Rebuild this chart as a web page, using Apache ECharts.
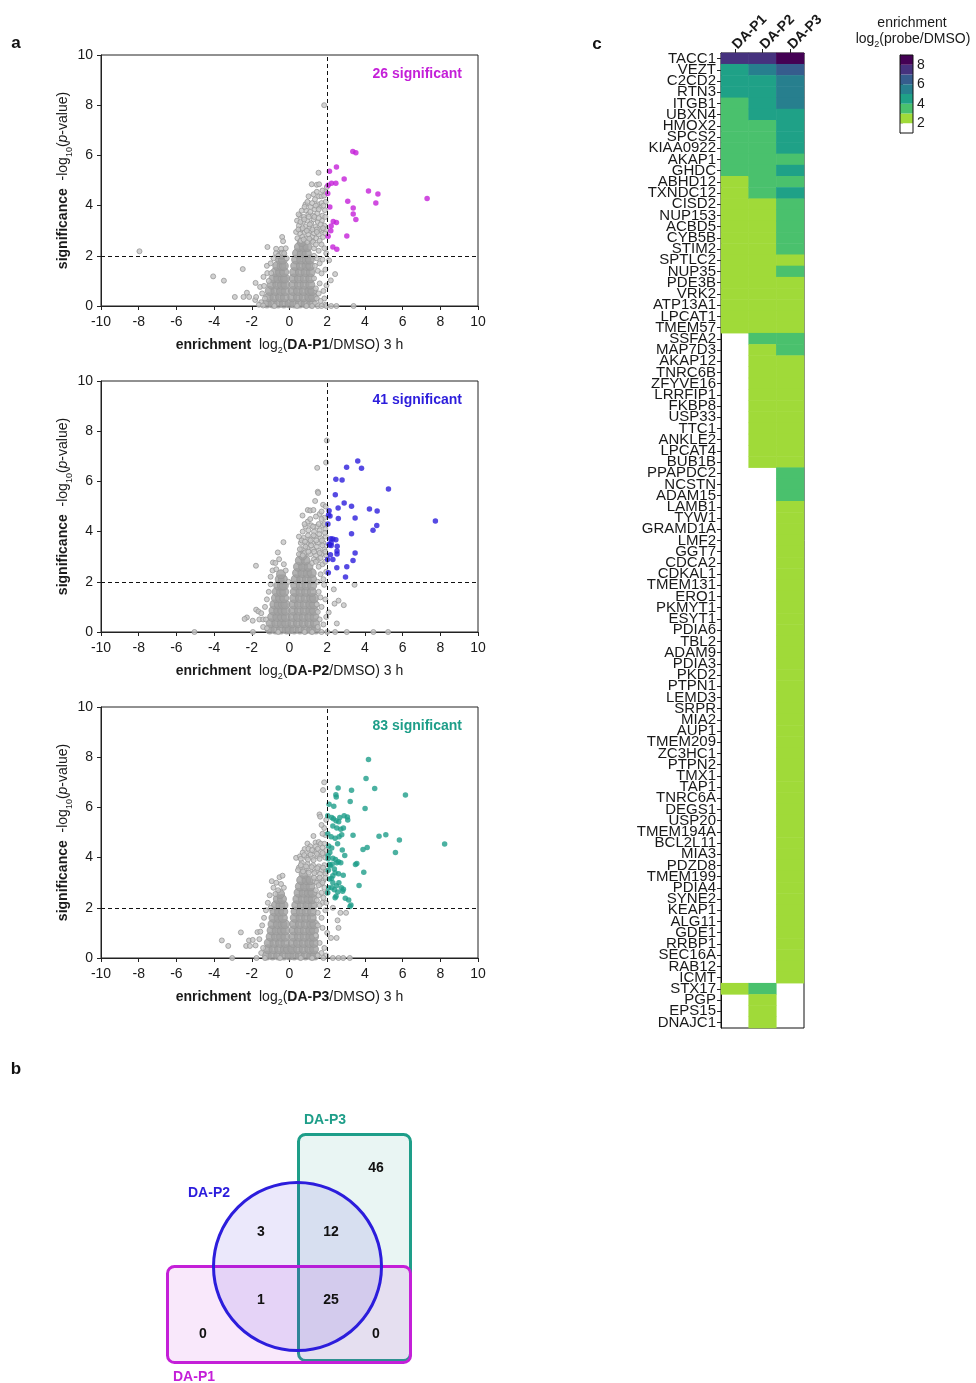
<!DOCTYPE html>
<html>
<head>
<meta charset="utf-8">
<script src="https://cdn.jsdelivr.net/npm/echarts@6/dist/echarts.min.js"></script>
<style>
  html, body { margin: 0; padding: 0; background: #fff; }
  #chart { width: 976px; height: 1383px; }
</style>
</head>
<body>
<div id="chart"></div>
<script>
// ---------- volcano plots: [log2 enrichment, -log10 p] ----------
const foldCut = 2;
const pCut = 2;

// significant hits per probe
const p1Sig = [[2.12,5.37],[2.49,5.54],[2.23,4.89],[2.46,4.89],[2.90,5.06],[2.03,4.48],[3.36,6.16],[3.52,6.11],[4.19,4.58],[4.69,4.46],[4.58,4.10],[7.30,4.28],[3.09,4.17],[3.38,3.90],[3.38,3.67],[3.52,3.45],[2.32,3.37],[2.49,3.33],[2.14,3.94],[2.21,3.19],[2.19,3.00],[2.05,2.78],[3.04,2.79],[2.30,2.35],[2.51,2.26],[2.05,4.81]];
const p2Sig = [[7.74,4.42],[5.25,5.70],[3.62,6.81],[3.82,6.52],[3.03,6.56],[2.46,6.09],[2.79,6.06],[2.43,5.47],[2.90,5.14],[3.29,5.01],[2.58,4.94],[4.24,4.90],[4.65,4.82],[3.48,4.54],[2.59,4.52],[2.10,4.83],[2.07,4.66],[2.15,4.62],[4.63,4.24],[4.43,4.05],[3.29,3.91],[2.19,3.72],[2.30,3.71],[2.46,3.68],[2.10,3.50],[2.21,3.45],[2.53,3.42],[2.52,3.23],[2.52,3.11],[3.48,3.15],[2.17,3.08],[2.02,2.89],[2.30,2.89],[3.37,2.85],[2.51,2.56],[3.04,2.60],[2.06,2.36],[2.97,2.19],[2.12,3.47],[2.04,4.30],[2.21,3.55]];
const p3Sig = [[8.23,4.54],[4.19,7.91],[4.06,7.15],[4.52,6.75],[6.15,6.49],[4.01,5.96],[5.83,4.70],[5.11,4.91],[4.75,4.85],[5.62,4.20],[4.12,4.40],[3.90,4.32],[3.37,4.89],[3.57,3.76],[3.50,3.73],[3.94,3.42],[3.69,2.89],[3.29,6.68],[3.22,6.24],[2.58,6.77],[2.46,6.50],[2.48,6.41],[2.10,6.13],[2.90,5.67],[3.07,5.62],[3.09,5.50],[2.03,5.67],[2.24,5.60],[2.33,5.55],[2.47,5.47],[2.61,5.43],[2.30,5.26],[2.51,5.18],[2.72,5.13],[2.86,5.18],[2.77,4.91],[2.63,4.83],[2.21,4.83],[2.42,4.77],[2.08,4.46],[2.24,4.38],[2.93,4.08],[2.30,3.97],[2.44,3.92],[2.60,3.83],[2.72,3.79],[2.51,3.79],[2.12,3.73],[2.26,3.74],[2.16,3.68],[2.42,3.40],[2.60,3.36],[2.30,3.28],[2.23,3.17],[2.12,3.15],[2.62,3.00],[2.30,3.00],[2.49,2.88],[2.08,2.80],[2.24,2.80],[2.75,2.80],[2.86,2.74],[2.82,2.66],[2.56,2.63],[2.38,2.72],[2.42,2.40],[2.47,2.46],[2.96,2.38],[3.14,2.31],[3.26,2.11],[3.21,2.05],[2.03,2.60],[2.06,3.50],[2.05,4.08],[2.03,4.95],[2.14,4.20],[2.55,4.55],[2.67,5.60],[2.35,6.05],[2.80,4.30],[2.38,3.55],[2.05,3.95],[2.85,3.30]];

// crowded centre of the non-significant proteins
const p1Core = [[-1.2,0.1],[-0.9,0.1],[-0.6,0.1],[-0.3,0.1],[0.0,0.1],[-1.1,0.35],[-0.8,0.35],[-0.5,0.35],[-0.25,0.35],[-1.05,0.6],[-0.75,0.6],[-0.45,0.6],[-0.22,0.6],[-0.95,0.85],[-0.65,0.85],[-0.4,0.85],[-0.22,0.85],[-0.85,1.1],[-0.6,1.1],[-0.35,1.1],[-0.24,1.1],[-0.75,1.35],[-0.5,1.35],[-0.28,1.35],[-0.65,1.6],[-0.42,1.6],[-0.3,1.6],[-0.5,1.85],[-0.35,1.85],[-0.42,2.05],
  [0.25,0.1],[0.55,0.1],[0.85,0.1],[1.15,0.1],[0.15,0.35],[0.45,0.35],[0.75,0.35],[1.05,0.35],[1.25,0.35],[0.18,0.6],[0.45,0.6],[0.75,0.6],[1.05,0.6],[1.22,0.6],[0.2,0.85],[0.5,0.85],[0.8,0.85],[1.1,0.85],[0.22,1.1],[0.5,1.1],[0.8,1.1],[1.1,1.1],[0.25,1.35],[0.55,1.35],[0.85,1.35],[1.12,1.35],[0.3,1.6],[0.6,1.6],[0.9,1.6],[1.1,1.6],[0.35,1.85],[0.62,1.85],[0.9,1.85],[1.08,1.85],[0.4,2.1],[0.65,2.1],[0.92,2.1],[0.5,2.35],[0.75,2.35],[0.95,2.35],[0.65,2.55]];
const p2Core = [[-1.05,0.1],[-0.75,0.1],[-0.45,0.1],[-0.15,0.1],[0.0,0.1],[-1.0,0.35],[-0.7,0.35],[-0.42,0.35],[-0.18,0.35],[-0.92,0.6],[-0.65,0.6],[-0.4,0.6],[-0.2,0.6],[-0.85,0.85],[-0.6,0.85],[-0.38,0.85],[-0.2,0.85],[-0.8,1.1],[-0.57,1.1],[-0.35,1.1],[-0.22,1.1],[-0.72,1.35],[-0.5,1.35],[-0.28,1.35],[-0.68,1.6],[-0.45,1.6],[-0.28,1.6],[-0.6,1.85],[-0.4,1.85],[-0.3,1.85],[-0.52,2.1],[-0.35,2.1],[-0.45,2.3],
  [0.25,0.1],[0.55,0.1],[0.85,0.1],[1.15,0.1],[1.4,0.1],[0.15,0.35],[0.45,0.35],[0.75,0.35],[1.05,0.35],[1.35,0.35],[0.18,0.6],[0.45,0.6],[0.75,0.6],[1.05,0.6],[1.32,0.6],[0.2,0.85],[0.5,0.85],[0.8,0.85],[1.1,0.85],[1.3,0.85],[0.22,1.1],[0.5,1.1],[0.8,1.1],[1.1,1.1],[1.3,1.1],[0.25,1.35],[0.55,1.35],[0.85,1.35],[1.15,1.35],[1.3,1.35],[0.28,1.6],[0.58,1.6],[0.88,1.6],[1.18,1.6],[0.3,1.85],[0.6,1.85],[0.9,1.85],[1.2,1.85],[0.33,2.1],[0.62,2.1],[0.92,2.1],[1.2,2.1],[0.4,2.35],[0.68,2.35],[0.95,2.35],[1.18,2.35],[0.45,2.6],[0.72,2.6],[1.0,2.6],[0.55,2.85],[0.85,2.85],[0.7,3.05]];
const p3Core = [[-1.2,0.1],[-0.9,0.1],[-0.6,0.1],[-0.3,0.1],[0.0,0.1],[-1.15,0.35],[-0.85,0.35],[-0.55,0.35],[-0.25,0.35],[-0.08,0.35],[-1.1,0.6],[-0.8,0.6],[-0.5,0.6],[-0.22,0.6],[-1.0,0.85],[-0.72,0.85],[-0.45,0.85],[-0.22,0.85],[-0.95,1.1],[-0.68,1.1],[-0.42,1.1],[-0.22,1.1],[-0.9,1.35],[-0.62,1.35],[-0.38,1.35],[-0.23,1.35],[-0.85,1.6],[-0.58,1.6],[-0.35,1.6],[-0.8,1.85],[-0.55,1.85],[-0.33,1.85],[-0.72,2.1],[-0.48,2.1],[-0.32,2.1],[-0.62,2.35],[-0.4,2.35],[-0.5,2.55],
  [0.25,0.1],[0.55,0.1],[0.85,0.1],[1.15,0.1],[1.35,0.1],[0.15,0.35],[0.45,0.35],[0.75,0.35],[1.05,0.35],[1.3,0.35],[0.18,0.6],[0.45,0.6],[0.75,0.6],[1.05,0.6],[1.3,0.6],[0.2,0.85],[0.5,0.85],[0.8,0.85],[1.1,0.85],[1.3,0.85],[0.22,1.1],[0.5,1.1],[0.8,1.1],[1.1,1.1],[1.3,1.1],[0.25,1.35],[0.55,1.35],[0.85,1.35],[1.15,1.35],[1.32,1.35],[0.28,1.6],[0.58,1.6],[0.88,1.6],[1.18,1.6],[0.32,1.85],[0.6,1.85],[0.9,1.85],[1.2,1.85],[0.36,2.1],[0.65,2.1],[0.95,2.1],[1.22,2.1],[0.42,2.35],[0.7,2.35],[1.0,2.35],[1.22,2.35],[0.48,2.6],[0.75,2.6],[1.02,2.6],[1.22,2.6],[0.55,2.85],[0.82,2.85],[1.1,2.85],[0.62,3.1],[0.9,3.1],[1.12,3.1],[0.75,3.35]];

// the sparser non-significant proteins around the centre
const p1Gray = [[-7.96,2.18],[-4.05,1.18],[-3.48,1.01],[-2.48,1.47],[-2.9,0.36],[-2.44,0.36],[-2.26,0.53],[-2.14,0.36],[-1.82,0.24],[-1.8,0.92],[-1.56,0.76],[-1.77,0.36],[-1.17,2.35],[-0.71,2.28],[-0.39,2.75],[-0.34,2.58],[-0.44,2.28],[-0.72,2.1],[-0.41,2.1],[-0.28,2.1],[-1.18,1.31],[-0.97,1.31],[-1.38,1.16],[-1.45,0.5],[-1.5,0.15],[-1.35,0.8],[-1.2,1.6],[-1.0,1.7],[-0.85,1.9],[-1.1,1.0],[-1.3,0.3],[-0.6,2.0],[-0.15,1.9],[-0.2,2.3],[-1.62,0.05],[-1.4,0.02],
  [0.42,2.7],[0.55,2.9],[0.68,2.75],[0.8,2.95],[0.9,2.7],[1.0,2.85],[1.1,3.0],[1.2,2.75],[1.3,2.9],[1.42,2.7],[1.55,2.85],[1.68,3.0],[1.78,2.75],[1.9,2.9],[0.6,2.6],[1.15,2.6],
  [0.5,3.2],[0.62,3.05],[0.72,3.35],[0.85,3.15],[0.95,3.4],[1.05,3.1],[1.15,3.3],[1.28,3.45],[1.38,3.15],[1.5,3.35],[1.6,3.05],[1.72,3.4],[1.85,3.2],[1.95,3.05],[0.4,3.4],
  [0.55,3.6],[0.75,3.55],[0.88,3.8],[1.0,3.65],[1.12,3.95],[1.25,3.6],[1.35,3.85],[1.48,3.7],[1.62,3.95],[1.75,3.6],[1.88,3.82],[0.48,3.65],
  [0.85,4.05],[1.01,4.37],[1.2,4.1],[1.35,4.25],[1.5,4.05],[1.57,4.37],[1.7,4.37],[1.84,4.4],[1.92,4.15],[1.7,4.1],
  [1.18,4.85],[1.45,4.83],[1.57,4.85],[1.98,4.74],[1.54,5.31],[1.9,4.55],[1.75,4.6],[1.84,8.0],
  [0.35,2.95],[0.47,3.05],[0.58,3.35],[0.7,3.1],[0.78,3.45],[0.92,3.0],[1.02,3.55],[1.08,3.25],[1.22,3.05],[1.32,3.55],[1.45,3.05],[1.55,3.5],[1.65,3.25],[1.78,3.1],[1.9,3.55],[0.65,3.8],[0.8,3.95],[0.95,4.15],[1.1,3.75],[1.4,4.0],[1.55,3.85],[1.8,4.0],[1.28,4.45],[1.45,4.55],[0.95,2.55],[1.25,2.55],[1.6,2.6],[1.45,2.95],[0.75,2.65],[1.05,2.68],
  [1.3,2.3],[1.4,2.45],[1.55,2.2],[1.7,2.45],[1.85,2.3],[1.95,2.1],[1.45,1.9],[1.6,1.7],[1.75,1.85],[2.1,1.82],[1.5,1.4],[1.7,1.3],[1.35,1.6],[1.9,1.45],[2.42,1.27],[2.19,1.02],[1.96,0.82],[1.6,0.9],[1.4,0.7],[1.8,0.6],[1.55,0.5],[1.45,0.3],[1.85,0.3],[1.65,0.2],[1.9,0.05],[1.95,0],[2.21,0],[2.49,0],[3.4,0],[1.3,1.1],[1.35,0.1],[1.3,2.0],
  [-0.8,0],[0.4,0],[0.9,0],[1.2,0],[1.5,0],[1.7,0]];
const p2Gray = [[-5.04,0],[-1.94,0],[-1.78,2.64],[-0.88,2.77],[-0.75,2.75],[-0.62,3.17],[-0.32,3.58],[-0.55,2.9],[-0.9,2.45],[-1.0,2.2],[-0.7,2.5],[-2.26,0.58],[-2.38,0.52],[-1.77,0.89],[-1.65,0.82],[-1.5,0.75],[-1.6,0.5],[-1.4,0.5],[-1.25,0.5],[-1.95,0.45],[-1.3,1.0],[-1.2,1.3],[-1.1,1.6],[-1.0,1.9],[-1.4,0.2],[-1.2,0.15],[-0.05,2.0],[-0.2,2.45],[-0.3,2.7],
  [0.5,3.1],[0.65,3.3],[0.8,3.15],[0.95,3.35],[1.1,3.1],[1.25,3.3],[1.4,3.05],[1.55,3.25],[1.7,3.1],[1.85,3.3],[1.95,3.05],
  [0.6,3.55],[0.75,3.75],[0.9,3.5],[1.05,3.7],[1.2,3.55],[1.35,3.8],[1.5,3.55],[1.65,3.75],[1.8,3.55],[1.92,3.8],[0.5,3.8],
  [0.7,4.0],[0.85,4.2],[1.0,4.05],[1.15,4.25],[1.3,4.0],[1.45,4.2],[1.6,4.05],[1.75,4.25],[1.9,4.1],[0.69,4.64],[0.97,4.4],
  [0.97,4.86],[1.1,4.84],[1.27,4.86],[1.36,5.22],[1.78,5.07],[1.6,4.7],[1.85,4.55],[1.5,5.59],[1.52,5.54],[1.47,6.54],[1.94,6.75],[1.98,7.63],[1.7,4.8],[1.92,5.0],
  [0.55,3.3],[0.7,3.05],[0.85,3.4],[1.0,3.2],[1.15,3.45],[1.3,3.2],[1.45,3.4],[1.6,3.15],[1.75,3.45],[1.9,3.2],[0.65,3.65],[0.82,3.6],[0.98,3.85],[1.12,3.65],[1.28,3.85],[1.42,3.65],[1.58,3.9],[1.72,3.65],[1.88,3.95],[0.8,4.3],[1.1,4.5],[1.25,4.2],[1.4,4.6],[1.55,4.3],[1.7,4.5],[1.85,4.3],[1.3,2.9],[1.5,2.85],[1.65,2.95],[1.2,2.75],
  [1.5,2.0],[1.65,2.3],[1.8,2.1],[1.95,2.4],[1.55,2.6],[1.75,2.7],[1.9,2.8],[1.4,2.8],[1.84,1.88],[2.35,1.7],[1.64,1.38],[2.39,1.13],[2.6,1.25],[2.88,1.07],[2.08,0.78],[2.51,0.34],[3.45,1.88],[2.42,0],[3.04,0],[4.45,0],[5.23,0],[1.55,1.6],[1.7,1.0],[1.9,1.3],[1.6,0.5],[1.8,0.3],[1.95,0.6],[1.5,0.2],[2.0,0],[1.7,0],[1.2,0],[0.8,0],[-0.6,0],[1.45,1.1],[1.5,0.8]];
const p3Gray = [[-3.59,0.7],[-3.25,0.48],[-3.04,0],[-2.58,1.02],[-2.3,0.48],[-2.1,0.48],[-2.15,0.7],[-1.95,0.72],[-1.7,1.03],[-1.55,1.05],[-1.8,0.5],[-1.6,0.75],[-1.45,1.3],[-1.35,1.6],[-1.25,1.9],[-1.4,0.4],[-1.5,0.2],[-1.75,0],[-1.3,0],[-1.15,2.2],[-1.05,2.5],[-0.94,3.06],[-0.53,3.22],[-0.37,3.28],[-0.7,3.0],[-0.85,2.8],[-0.6,2.7],[-0.75,2.55],[-0.3,2.8],[-0.45,2.95],[-1.0,2.0],
  [1.84,7.0],[1.78,6.69],[1.59,5.72],[1.63,5.63],[1.84,5.18],[1.27,4.86],[1.38,4.6],[1.55,4.62],[1.66,4.55],[0.95,4.56],[0.8,4.34],[0.35,3.99],[1.9,4.9],[1.75,4.95],[1.95,5.5],[1.7,5.3],
  [0.5,3.6],[0.65,3.8],[0.8,3.55],[0.95,3.75],[1.1,3.5],[1.25,3.7],[1.4,3.45],[1.55,3.65],[1.7,3.5],[1.85,3.7],[1.95,3.45],
  [0.55,4.05],[0.7,4.2],[0.9,4.0],[1.05,4.2],[1.2,4.0],[1.35,4.25],[1.5,4.05],[1.65,4.25],[1.8,4.1],[1.95,4.3],[1.1,4.45],[1.4,4.45],[1.85,4.55],
  [0.45,3.5],[0.6,3.7],[0.72,3.45],[0.88,3.65],[1.02,3.4],[1.18,3.62],[1.32,3.38],[1.48,3.58],[1.62,3.35],[1.78,3.6],[1.92,3.35],[0.6,3.95],[0.78,4.1],[0.98,3.92],[1.12,4.12],[1.28,3.9],[1.45,4.15],[1.6,3.95],[1.75,4.18],[1.9,4.0],[1.0,4.35],[1.2,4.3],[1.5,4.35],[1.75,4.4],[1.35,3.05],[1.5,3.15],[1.65,2.95],[1.8,3.1],[1.55,2.5],[1.75,2.2],
  [1.3,3.2],[1.45,3.0],[1.6,3.2],[1.75,3.0],[1.9,3.2],[1.4,2.7],[1.55,2.9],[1.7,2.6],[1.85,2.8],[1.98,2.6],
  [1.45,2.3],[1.6,2.1],[1.8,2.4],[1.95,2.2],[1.5,1.8],[1.7,1.6],[1.9,1.9],[2.3,2.0],[2.7,1.8],[2.55,1.5],[3.0,1.8],[1.5,1.3],[1.75,1.2],[2.0,1.0],[2.2,0.8],[2.6,1.2],[2.5,0.8],[1.4,0.9],[1.6,0.6],[1.85,0.4],[1.7,0.2],[1.95,0.1],[1.5,0.1],[2.3,0],[2.6,0],[2.85,0],[3.2,0],[1.8,0],[1.2,0],[0.6,0],[-0.5,0]];

const xTickRange = [-10, 10, 2];
const yTickRange = [0, 10, 2];

// ---------- heatmap: log2(probe/DMSO) of significant proteins ----------
const probes = ['DA-P1', 'DA-P2', 'DA-P3'];
const genes = ['TACC1','VEZT','C2CD2','RTN3','ITGB1','UBXN4','HMOX2','SPCS2','KIAA0922','AKAP1','GHDC','ABHD12','TXNDC12','CISD2','NUP153','ACBD5','CYB5B','STIM2','SPTLC2','NUP35','PDE3B','VRK2','ATP13A1','LPCAT1','TMEM57','SSFA2','MAP7D3','AKAP12','TNRC6B','ZFYVE16','LRRFIP1','FKBP8','USP33','TTC1','ANKLE2','LPCAT4','BUB1B','PPAPDC2','NCSTN','ADAM15','LAMB1','TYW1','GRAMD1A','LMF2','GGT7','CDCA2','CDKAL1','TMEM131','ERO1','PKMYT1','ESYT1','PDIA6','TBL2','ADAM9','PDIA3','PKD2','PTPN1','LEMD3','SRPR','MIA2','AUP1','TMEM209','ZC3HC1','PTPN2','TMX1','TAP1','TNRC6A','DEGS1','USP20','TMEM194A','BCL2L11','MIA3','PDZD8','TMEM199','PDIA4','SYNE2','KEAP1','ALG11','GDE1','RRBP1','SEC16A','RAB12','ICMT','STX17','PGP','EPS15','DNAJC1'];

const p1Enrich = {TACC1:7.30, VEZT:4.69, C2CD2:4.58, RTN3:4.19, ITGB1:3.52, UBXN4:3.52, HMOX2:3.38, SPCS2:3.38, KIAA0922:3.36, AKAP1:3.09, GHDC:3.04, ABHD12:2.90, TXNDC12:2.51, CISD2:2.49, NUP153:2.49, ACBD5:2.46, CYB5B:2.32, STIM2:2.30, SPTLC2:2.23, NUP35:2.21, PDE3B:2.19, VRK2:2.14, ATP13A1:2.12, LPCAT1:2.05, TMEM57:2.03, STX17:2.05};
const p2Enrich = {TACC1:7.74, VEZT:5.25, C2CD2:4.65, RTN3:4.63, ITGB1:4.43, UBXN4:4.24, HMOX2:3.82, SPCS2:3.62, KIAA0922:3.48, AKAP1:3.48, GHDC:3.37, ABHD12:3.29, TXNDC12:3.29, CISD2:2.97, NUP153:2.90, ACBD5:2.79, CYB5B:2.59, STIM2:2.58, SPTLC2:2.53, NUP35:2.52, PDE3B:2.52, VRK2:2.51, ATP13A1:2.46, LPCAT1:2.43, TMEM57:2.30, SSFA2:3.04, MAP7D3:2.30, AKAP12:2.21, TNRC6B:2.21, ZFYVE16:2.19, LRRFIP1:2.17, FKBP8:2.15, USP33:2.12, TTC1:2.10, ANKLE2:2.10, LPCAT4:2.07, BUB1B:2.06, STX17:3.03, PGP:2.04, EPS15:2.02, DNAJC1:2.46};
const p3Enrich = {TACC1:8.23, VEZT:6.15, C2CD2:5.83, RTN3:5.62, ITGB1:5.11, UBXN4:4.75, HMOX2:4.52, SPCS2:4.19, KIAA0922:4.12, AKAP1:3.94, GHDC:4.06, ABHD12:3.90, TXNDC12:4.01, CISD2:3.69, NUP153:3.57, ACBD5:3.50, CYB5B:3.37, STIM2:3.29, SPTLC2:2.96, NUP35:3.26, PDE3B:2.93, VRK2:2.90, ATP13A1:2.86, LPCAT1:2.86, TMEM57:2.85, SSFA2:3.22, MAP7D3:3.21, AKAP12:2.82, TNRC6B:2.80, ZFYVE16:2.77, LRRFIP1:2.75, FKBP8:2.72, USP33:2.72, TTC1:2.67, ANKLE2:2.63, LPCAT4:2.62, BUB1B:2.61, PPAPDC2:3.14, NCSTN:3.09, ADAM15:3.07,
  LAMB1:2.60, TYW1:2.60, GRAMD1A:2.58, LMF2:2.56, GGT7:2.55, CDCA2:2.51, CDKAL1:2.51, TMEM131:2.49, ERO1:2.48, PKMYT1:2.47, ESYT1:2.47, PDIA6:2.46, TBL2:2.44, ADAM9:2.42, PDIA3:2.42, PKD2:2.42, PTPN1:2.38, LEMD3:2.38, SRPR:2.35, MIA2:2.33, AUP1:2.30, TMEM209:2.30, ZC3HC1:2.30, PTPN2:2.30, TMX1:2.26, TAP1:2.24, TNRC6A:2.24, DEGS1:2.23, USP20:2.21, TMEM194A:2.16, BCL2L11:2.14, MIA3:2.12, PDZD8:2.12, TMEM199:2.10, PDIA4:2.08, SYNE2:2.08, KEAP1:2.06, ALG11:2.05, GDE1:2.05, RRBP1:2.03, SEC16A:2.03, RAB12:2.03, ICMT:2.02};

// colour scale (one step per log2 unit)
const scaleEdges = [1, 2, 3, 4, 5, 6, 7, 8, 9];
const scaleTicks = [2, 4, 6, 8];
const viridisSteps = ['#ffffff', '#a0da39', '#4ac16d', '#1fa187', '#277f8e', '#365c8d', '#46327e', '#440154'];

// ---------- styling ----------
const FONT = '"Liberation Sans", Arial, Helvetica, sans-serif';
const INK = '#1a1a1a';
const probeColors = ['#c41fd8', '#2c1ddc', '#1e9e89'];
const grayFill = '#c6c6c6', grayEdge = '#979797', coreFill = '#a0a0a0';

const volcanoData = [
  { sig: p1Sig, core: p1Core, rest: p1Gray },
  { sig: p2Sig, core: p2Core, rest: p2Gray },
  { sig: p3Sig, core: p3Core, rest: p3Gray }
];
const volcanoTops = [55, 381, 707];
const plotLeft = 101, plotW = 377, plotH = 251;

const richName = {
  b: { fontWeight: 'bold', fontSize: 14, fontFamily: FONT, color: INK },
  s: { fontSize: 9, lineHeight: 20, verticalAlign: 'bottom', fontFamily: FONT, color: INK },
  i: { fontStyle: 'italic', fontSize: 14, fontFamily: FONT, color: INK }
};

const grids = [], xAxes = [], yAxes = [], series = [], graphics = [];

volcanoData.forEach((v, i) => {
  grids.push({ left: plotLeft, top: volcanoTops[i], width: plotW, height: plotH,
    show: true, borderColor: '#222', borderWidth: 1, backgroundColor: 'transparent' });
  const tickStyle = { show: true, length: 4, lineStyle: { color: '#222', width: 1 } };
  xAxes.push({
    gridIndex: i, type: 'value', min: xTickRange[0], max: xTickRange[1], interval: xTickRange[2],
    axisLine: { show: true, onZero: false, lineStyle: { color: '#222' } },
    axisTick: tickStyle, splitLine: { show: false },
    axisLabel: { fontSize: 14, color: INK, fontFamily: FONT, margin: 9 },
    name: '{b|enrichment}  log{s|2}({b|' + probes[i] + '}/DMSO) 3 h',
    nameLocation: 'middle', nameGap: 29,
    nameTextStyle: { fontSize: 14, color: INK, fontFamily: FONT, rich: richName }
  });
  yAxes.push({
    gridIndex: i, type: 'value', min: yTickRange[0], max: yTickRange[1], interval: yTickRange[2],
    axisLine: { show: true, onZero: false, lineStyle: { color: '#222' } },
    axisTick: tickStyle, splitLine: { show: false },
    axisLabel: { fontSize: 14, color: INK, fontFamily: FONT, margin: 8 },
    name: '{b|significance}  -log{s|10}({i|p}-value)',
    nameLocation: 'middle', nameGap: 26, nameRotate: 90,
    nameTextStyle: { fontSize: 14, color: INK, fontFamily: FONT, rich: richName }
  });
  series.push({
    type: 'scatter', xAxisIndex: i, yAxisIndex: i, data: v.core, symbolSize: 9,
    itemStyle: { color: coreFill, borderColor: grayEdge, borderWidth: 1 }, silent: true, z: 2
  });
  series.push({
    type: 'scatter', xAxisIndex: i, yAxisIndex: i, data: v.rest, symbolSize: 5,
    itemStyle: { color: grayFill, borderColor: grayEdge, borderWidth: 1 }, silent: true, z: 3,
    markLine: {
      silent: true, symbol: ['none', 'none'], animation: false,
      label: { show: false },
      lineStyle: { color: '#111', type: [4, 3], width: 1 },
      data: [{ xAxis: foldCut }, { yAxis: pCut }]
    }
  });
  series.push({
    type: 'scatter', xAxisIndex: i, yAxisIndex: i, data: v.sig, symbolSize: 5.5,
    itemStyle: { color: probeColors[i] }, z: 4
  });
  graphics.push({
    type: 'text', x: plotLeft + plotW - 16, y: volcanoTops[i] + 19,
    style: { text: v.sig.length + ' significant', fill: probeColors[i], fontSize: 14,
      fontWeight: 'bold', fontFamily: FONT, align: 'right', verticalAlign: 'middle' }
  });
});

// heatmap grid
const hmIndex = grids.length;
grids.push({ left: 721, top: 53, width: 83, height: 975, show: true, borderColor: '#111', borderWidth: 1, backgroundColor: 'transparent' });
xAxes.push({
  gridIndex: hmIndex, type: 'category', data: probes, position: 'top',
  axisLine: { show: true, lineStyle: { color: '#111' } },
  axisTick: { show: true, alignWithLabel: true, length: 4, lineStyle: { color: '#222' } },
  axisLabel: { rotate: -45, fontWeight: 'bold', fontSize: 14, color: INK, fontFamily: FONT, margin: 6, interval: 0 },
  splitLine: { show: false }
});
yAxes.push({
  gridIndex: hmIndex, type: 'category', data: genes, inverse: true,
  axisLine: { show: true, lineStyle: { color: '#111' } },
  axisTick: { show: true, alignWithLabel: true, length: 4, interval: 0, lineStyle: { color: '#222' } },
  axisLabel: { fontSize: 15, color: INK, fontFamily: FONT, margin: 5, interval: 0 },
  splitLine: { show: false }
});
const enrichTables = [p1Enrich, p2Enrich, p3Enrich];
const hmData = [];
enrichTables.forEach((tab, j) => {
  genes.forEach((g, r) => { if (tab[g] != null) hmData.push([j, r, tab[g]]); });
});
const hmSeriesIndex = series.length;
series.push({
  type: 'heatmap', xAxisIndex: hmIndex, yAxisIndex: hmIndex, data: hmData,
  itemStyle: { borderWidth: 0 }, silent: true, z: 1
});

// colour scale bar
const cbIndex = grids.length;
grids.push({ left: 900, top: 55, width: 13, height: 78, show: true, borderColor: '#111', borderWidth: 1, backgroundColor: 'transparent', z: 5 });
xAxes.push({ gridIndex: cbIndex, type: 'value', min: 0, max: 1, show: false });
yAxes.push({
  gridIndex: cbIndex, type: 'value', min: scaleEdges[0], max: scaleEdges[scaleEdges.length - 1], position: 'right',
  axisLine: { show: true, lineStyle: { color: '#111' } },
  axisTick: { show: true, length: 3, customValues: scaleTicks, lineStyle: { color: '#222' } },
  axisLabel: { customValues: scaleTicks, fontSize: 14, color: INK, fontFamily: FONT, margin: 4 },
  splitLine: { show: false }
});
const bandData = scaleEdges.slice(0, -1).map((lo, k) => [0, lo, scaleEdges[k + 1], k]);
series.push({
  type: 'custom', xAxisIndex: cbIndex, yAxisIndex: cbIndex, data: bandData, silent: true, clip: false,
  renderItem: (params, api) => {
    const a = api.coord([0, api.value(2)]);
    const b = api.coord([1, api.value(1)]);
    return { type: 'rect', shape: { x: a[0], y: a[1], width: b[0] - a[0], height: b[1] - a[1] },
      style: { fill: viridisSteps[api.value(3)] } };
  }
});

// ---------- Venn diagram of hits shared between probes ----------
const setOf = t => new Set(Object.keys(t));
const S1 = setOf(p1Enrich), S2 = setOf(p2Enrich), S3 = setOf(p3Enrich);
const allHits = [...new Set([...S1, ...S2, ...S3])];
const regionCount = (a, b, c) => allHits.filter(g => S1.has(g) === a && S2.has(g) === b && S3.has(g) === c).length;
const vennRegions = [
  [false, false, true], [false, true, false], [false, true, true],
  [true, true, false], [true, true, true], [true, false, false], [true, false, true]
];
const vennCounts = vennRegions.map(r => regionCount(r[0], r[1], r[2]));
// centre of each region in the diagram's own frame (px from its top-left)
const vennRegionPos = [[226, 68], [111, 132], [181, 132], [111, 200], [181, 200], [53, 234], [226, 234]];
// outlines: DA-P3 box, DA-P1 box, DA-P2 circle
const vennShapes = [
  { set: 2, kind: 'rect', x1: 148.5, y1: 34.5, x2: 260.5, y2: 260.5 },
  { set: 0, kind: 'rect', x1: 17.5, y1: 166.5, x2: 260.5, y2: 262.5 },
  { set: 1, kind: 'circle', x1: 147.5, y1: 166.5, r: 84 }
];
const vennNamePos = [[44, 277], [59, 93], [175, 20]];
const vennFills = ['rgba(200,30,215,0.10)', 'rgba(60,25,215,0.10)', 'rgba(38,160,140,0.10)'];

const vnIndex = grids.length;
grids.push({ left: 150, top: 1100, width: 280, height: 283 });
xAxes.push({ gridIndex: vnIndex, type: 'value', min: 0, max: 280, show: false });
yAxes.push({ gridIndex: vnIndex, type: 'value', min: 0, max: 283, inverse: true, show: false });
series.push({
  type: 'custom', xAxisIndex: vnIndex, yAxisIndex: vnIndex, silent: true, clip: false,
  data: vennShapes.map(s => [s.x1, s.y1]),
  renderItem: (params, api) => {
    const s = vennShapes[params.dataIndex];
    const style = { fill: vennFills[s.set], stroke: probeColors[s.set], lineWidth: 3 };
    if (s.kind === 'rect') {
      const a = api.coord([s.x1, s.y1]), b = api.coord([s.x2, s.y2]);
      return { type: 'rect', shape: { x: a[0], y: a[1], width: b[0] - a[0], height: b[1] - a[1], r: 7 }, style };
    }
    const c = api.coord([s.x1, s.y1]);
    const r = api.size([s.r, 0])[0];
    return { type: 'circle', shape: { cx: c[0], cy: c[1], r }, style };
  }
});
series.push({
  type: 'custom', xAxisIndex: vnIndex, yAxisIndex: vnIndex, silent: true, clip: false, z: 5,
  data: vennRegionPos.map((p, k) => [p[0], p[1], vennCounts[k]]),
  renderItem: (params, api) => {
    const c = api.coord([api.value(0), api.value(1)]);
    return { type: 'text', x: c[0], y: c[1],
      style: { text: String(api.value(2)), fill: '#111', fontSize: 14, fontWeight: 'bold', fontFamily: FONT,
        align: 'center', verticalAlign: 'middle' } };
  }
});
series.push({
  type: 'custom', xAxisIndex: vnIndex, yAxisIndex: vnIndex, silent: true, clip: false, z: 5,
  data: vennNamePos.map((p, k) => [p[0], p[1], k]),
  renderItem: (params, api) => {
    const c = api.coord([api.value(0), api.value(1)]);
    const k = api.value(2);
    return { type: 'text', x: c[0], y: c[1],
      style: { text: probes[k], fill: probeColors[k], fontSize: 14, fontWeight: 'bold', fontFamily: FONT,
        align: 'center', verticalAlign: 'middle' } };
  }
});

// panel letters and colour-scale title
[['a', 16, 43], ['b', 16, 1069], ['c', 597, 44]].forEach(t => graphics.push({
  type: 'text', x: t[1], y: t[2],
  style: { text: t[0], fill: '#111', fontSize: 17, fontWeight: 'bold', fontFamily: FONT, align: 'center', verticalAlign: 'middle' }
}));
graphics.push({
  type: 'text', x: 912, y: 23,
  style: { text: 'enrichment', fill: INK, fontSize: 14, fontFamily: FONT, align: 'center', verticalAlign: 'middle' }
});
graphics.push({
  type: 'text', x: 913, y: 39,
  style: { text: 'log{s|2}(probe/DMSO)', fill: INK, fontSize: 14, fontFamily: FONT, align: 'center', verticalAlign: 'middle',
    rich: { s: { fontSize: 9, lineHeight: 20, verticalAlign: 'bottom', fontFamily: FONT, fill: INK } } }
});

const chart = echarts.init(document.getElementById('chart'), null, { renderer: 'canvas' });
chart.setOption({
  animation: false,
  backgroundColor: '#fff',
  textStyle: { fontFamily: FONT },
  grid: grids,
  xAxis: xAxes,
  yAxis: yAxes,
  visualMap: {
    type: 'piecewise', show: false, seriesIndex: hmSeriesIndex, dimension: 2,
    pieces: scaleEdges.slice(1, -1).map((lo, k) => ({ gte: lo, lt: scaleEdges[k + 2], color: viridisSteps[k + 1] }))
  },
  series,
  graphic: graphics
});
</script>
</body>
</html>
